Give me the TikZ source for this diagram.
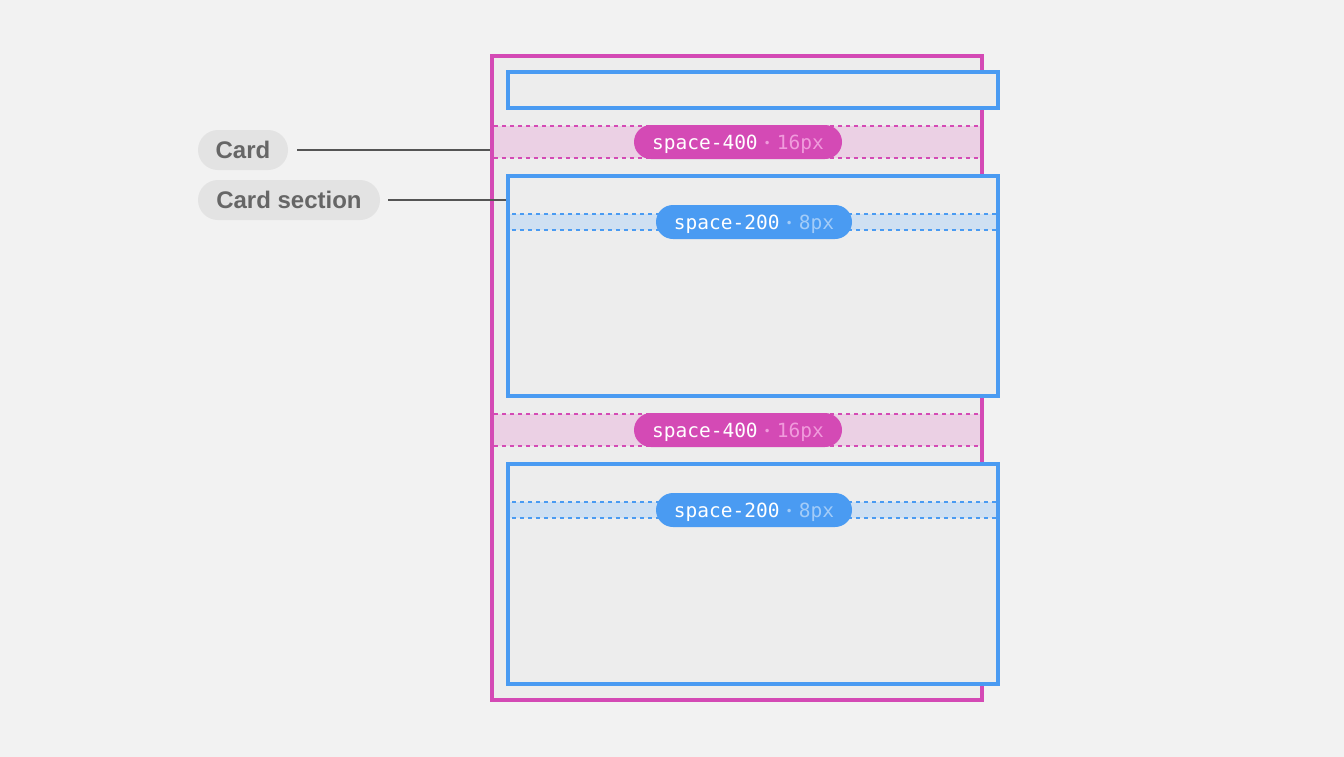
\documentclass[tikz,border=0pt]{standalone}
\usepackage{fontspec}
\setmainfont{Liberation Sans}
\newfontfamily\monof{DejaVu Sans Mono}
\definecolor{bg}{HTML}{F2F2F2}
\definecolor{cardfill}{HTML}{EDEDED}
\definecolor{mag}{HTML}{D44AB5}
\definecolor{magband}{HTML}{EBD0E4}
\definecolor{maglight}{HTML}{F09BDC}
\definecolor{blu}{HTML}{4A9BF2}
\definecolor{bluband}{HTML}{CFE0F2}
\definecolor{blulight}{HTML}{A3CCF8}
\definecolor{lblfill}{HTML}{E3E3E3}
\definecolor{lbltext}{HTML}{666666}
\definecolor{conn}{HTML}{555555}
\newcommand{\sepdot}[1]{\hspace{6pt}\raisebox{1.5pt}{\color{#1}\fontsize{12}{12}\selectfont•}\hspace{6pt}}
\begin{document}
\begin{tikzpicture}[x=1pt,y=-1pt,
  cardbox/.style={draw=mag,line width=3.5pt,fill=cardfill,inner sep=0pt},
  secbox/.style={draw=blu,line width=3.5pt,fill=cardfill,inner sep=0pt,minimum width=490pt},
  pillbase/.style={rounded corners=17pt,minimum height=34pt,inner sep=0pt,text height=17pt,text depth=3pt,text=white,font=\monof\fontsize{19.5}{20}\selectfont},
  magpill/.style={pillbase,fill=mag,minimum width=208pt},
  blupill/.style={pillbase,fill=blu,minimum width=196pt},
  lbl/.style={fill=lblfill,rounded corners=20pt,minimum height=40pt,inner sep=0pt,text=lbltext,font=\bfseries\fontsize{24}{25}\selectfont},
  magdash/.style={draw=mag,line width=1.5pt,dash pattern=on 4pt off 4pt},
  bludash/.style={draw=blu,line width=1.5pt,dash pattern=on 4pt off 4pt},
  connector/.style={draw=conn,line width=2pt}]
\useasboundingbox (0,0) rectangle (1344,756);
\fill[bg] (-3,-3) rectangle (1347,759);
% card
\node[cardbox,minimum width=490pt,minimum height=644pt] (card) at (737,378) {};
% pink bands
\fill[magband] (494,126) rectangle (980,158);
\draw[magdash] (494,126) -- (980,126) (494,158) -- (980,158);
\fill[magband] (494,414) rectangle (980,446);
\draw[magdash] (494,414) -- (980,414) (494,446) -- (980,446);
% sections
\node[secbox,minimum height=36pt] (sec1) at (753,90) {};
\node[secbox,minimum height=220pt] (sec2) at (753,286) {};
\node[secbox,minimum height=220pt] (sec3) at (753,574) {};
% blue bands
\fill[bluband] (510,214) rectangle (996,230);
\draw[bludash] (512,214) -- (996,214) (512,230) -- (996,230);
\fill[bluband] (510,502) rectangle (996,518);
\draw[bludash] (512,502) -- (996,502) (512,518) -- (996,518);
% pills
\node[magpill] (p1) at (738,142) {space-400\sepdot{maglight}{\color{maglight}16px}};
\node[magpill] (p2) at (738,430) {space-400\sepdot{maglight}{\color{maglight}16px}};
\node[blupill] (p3) at (754,222) {space-200\sepdot{blulight}{\color{blulight}8px}};
\node[blupill] (p4) at (754,510) {space-200\sepdot{blulight}{\color{blulight}8px}};
% labels
\node[lbl,minimum width=90pt] (lcard) at (243,150) {Card};
\node[lbl,minimum width=182pt] (lsec) at (289,200) {Card section};
\draw[connector] ([xshift=9pt]lcard.east) -- (lcard.east -| card.west);
\draw[connector] ([xshift=8pt]lsec.east) -- (lsec.east -| sec2.west);
\end{tikzpicture}
\end{document}
